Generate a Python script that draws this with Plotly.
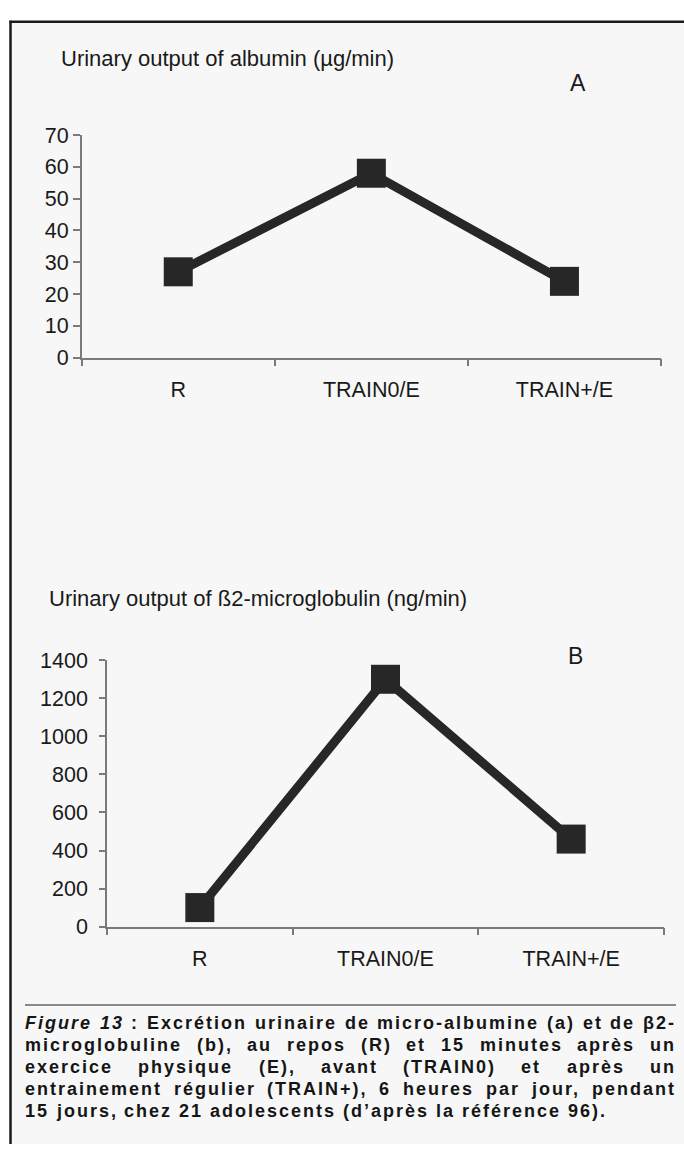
import plotly.graph_objects as go

# ---------------- data ----------------
categories = ["R", "TRAIN0/E", "TRAIN+/E"]
albumin = [27, 58, 24]
microglobulin = [100, 1300, 460]
albumin_ticks = [0, 10, 20, 30, 40, 50, 60, 70]
microglobulin_ticks = [0, 200, 400, 600, 800, 1000, 1200, 1400]
title_a = "Urinary output of albumin (µg/min)"
title_b = "Urinary output of ß2-microglobulin (ng/min)"
label_a = "A"
label_b = "B"
caption_lines = [
    "<i>Figure</i> <i>13</i> : Excrétion urinaire de micro-albumine (a) et de β2-",
    "microglobuline (b), au repos (R) et 15 minutes après un",
    "exercice physique (E), avant (TRAIN0) et après un",
    "entrainement régulier (TRAIN+), 6 heures par jour, pendant",
    "15 jours, chez 21 adolescents (d’après la référence 96).",
]

# ---------------- layout helpers ----------------
W, H = 684, 1157
DARK = "#272727"
TEXT = "#1a1a1a"
AXIS = "#7a7a7a"
FONT = "Liberation Sans, Arial, sans-serif"


def px(x):
    return x / W


def py(y):
    return 1 - y / H


fig = go.Figure()

fig.add_trace(go.Scatter(
    x=categories, y=albumin, mode="lines+markers", xaxis="x", yaxis="y",
    line=dict(color=DARK, width=9),
    marker=dict(symbol="square", size=29, color=DARK),
    cliponaxis=False, showlegend=False, hoverinfo="skip"))
fig.add_trace(go.Scatter(
    x=categories, y=microglobulin, mode="lines+markers", xaxis="x2", yaxis="y2",
    line=dict(color=DARK, width=9),
    marker=dict(symbol="square", size=29, color=DARK),
    cliponaxis=False, showlegend=False, hoverinfo="skip"))

common_x = dict(type="category", range=[-0.5, 2.5], showline=True, linecolor=AXIS,
                linewidth=1.5, ticks="outside", tickson="boundaries", ticklen=7,
                tickcolor=AXIS, tickwidth=1.5, showgrid=False, zeroline=False,
                tickfont=dict(family=FONT, size=21.5, color=TEXT), ticklabelstandoff=12)
common_y = dict(showline=True, linecolor=AXIS, linewidth=1.5, ticks="outside",
                tickcolor=AXIS, tickwidth=1.5, showgrid=False,
                zeroline=False, tickfont=dict(family=FONT, size=21.5, color=TEXT))

fig.update_layout(
    width=W, height=H, margin=dict(l=0, r=0, t=0, b=0),
    paper_bgcolor="white", plot_bgcolor="rgba(0,0,0,0)",
    xaxis=dict(domain=[px(81.7), px(661)], anchor="y", **common_x),
    yaxis=dict(domain=[py(354), py(126.7)], anchor="x", range=[0, 70],
               tickvals=albumin_ticks, ticklen=7, **common_y),
    xaxis2=dict(domain=[px(107), px(664)], anchor="y2", **common_x),
    yaxis2=dict(domain=[py(935), py(663)], anchor="x2", range=[0, 1400],
                tickvals=microglobulin_ticks, ticklen=6, ticklabelstandoff=7,
                **common_y),
)

shapes = [
    dict(type="rect", xref="paper", yref="paper", x0=px(11), x1=1, y0=0, y1=py(11),
         fillcolor="#f7f7f7", line=dict(width=0), layer="below"),
    dict(type="line", xref="paper", yref="paper", x0=px(10.5), x1=px(10.5), y0=0, y1=py(10),
         line=dict(color="#1a1a1a", width=2.5)),
    dict(type="line", xref="paper", yref="paper", x0=px(9.5), x1=1, y0=py(11), y1=py(11),
         line=dict(color="#1a1a1a", width=2.5)),
    dict(type="line", xref="paper", yref="paper", x0=px(25), x1=px(676), y0=py(1015), y1=py(1015),
         line=dict(color="#8a8a8a", width=2)),
]
fig.update_layout(shapes=shapes)

ann = []
ann.append(dict(text=title_a, x=px(59), y=py(48), xref="paper", yref="paper",
                xanchor="left", yanchor="middle", showarrow=False,
                font=dict(family=FONT, size=22, color=TEXT)))
ann.append(dict(text=title_b, x=px(47), y=py(600), xref="paper", yref="paper",
                xanchor="left", yanchor="middle", showarrow=False,
                font=dict(family=FONT, size=22, color=TEXT)))
ann.append(dict(text=label_a, x=px(578), y=py(74), xref="paper", yref="paper",
                xanchor="center", yanchor="middle", showarrow=False,
                font=dict(family=FONT, size=23, color=TEXT)))
ann.append(dict(text=label_b, x=px(575), y=py(659), xref="paper", yref="paper",
                xanchor="center", yanchor="middle", showarrow=False,
                font=dict(family=FONT, size=23, color=TEXT)))

# ---------------- justified caption ----------------
AB = {' ': 278, '!': 333, '(': 333, ')': 333, '+': 584, ',': 278, '-': 333, '.': 278,
      '/': 278, ':': 333, '’': 278, 'β': 600, 'é': 556, 'è': 556,
      'A': 722, 'B': 722, 'C': 722, 'D': 722, 'E': 667, 'F': 611, 'G': 778, 'H': 722,
      'I': 278, 'J': 556, 'K': 722, 'L': 611, 'M': 833, 'N': 722, 'O': 778, 'P': 667,
      'Q': 778, 'R': 722, 'S': 667, 'T': 611, 'U': 722, 'V': 667, 'W': 944, 'X': 667,
      'Y': 667, 'Z': 611,
      'a': 556, 'b': 611, 'c': 556, 'd': 611, 'e': 556, 'f': 333, 'g': 611, 'h': 611,
      'i': 278, 'j': 278, 'k': 556, 'l': 278, 'm': 889, 'n': 611, 'o': 611, 'p': 611,
      'q': 611, 'r': 389, 's': 556, 't': 333, 'u': 611, 'v': 556, 'w': 778, 'x': 556,
      'y': 556, 'z': 500}
CFS = 18
LS = 2.0
X0, X1 = 25, 676
line_y = [1033, 1055.5, 1078, 1100.5, 1123]


def plain(word):
    return word.replace("<i>", "").replace("</i>", "")


def wwidth(word):
    w = plain(word)
    return sum(AB.get(c, 556) for c in w) / 1000 * CFS + LS * len(w)


def word_ann(word, x, y, anchor):
    return dict(text='<b><span style="letter-spacing:%.1fpx">%s</span></b>' % (LS, word),
                x=px(x), y=py(y), xref="paper", yref="paper", xanchor=anchor,
                yanchor="middle", showarrow=False, borderpad=0, borderwidth=0,
                font=dict(family=FONT, size=CFS, color="#151515"))


for i, line in enumerate(caption_lines):
    words = line.split(" ")
    y = line_y[i]
    if i < len(caption_lines) - 1:
        widths = [wwidth(w) for w in words]
        gap = (X1 - X0 - sum(widths)) / (len(words) - 1)
        x = X0
        for j, w in enumerate(words):
            if j == len(words) - 1:
                ann.append(word_ann(w, X1, y, "right"))
            else:
                ann.append(word_ann(w, x, y, "left"))
            x += widths[j] + gap
    else:
        gap = 0.278 * CFS + LS
        x = X0
        for w in words:
            ann.append(word_ann(w, x, y, "left"))
            x += wwidth(w) + gap

fig.update_layout(annotations=ann)

fig.write_html("out.html", config={"displayModeBar": False},
               post_script="document.body.style.margin='0';")
